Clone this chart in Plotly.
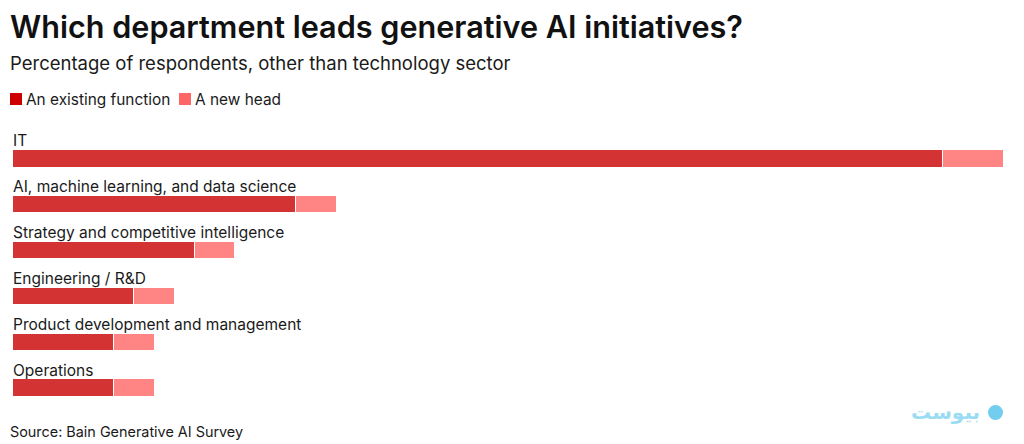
import plotly.graph_objects as go

categories = ["IT", "AI, machine learning, and data science", "Strategy and competitive intelligence",
              "Engineering / R&D", "Product development and management", "Operations"]
existing_function = [46, 14, 9, 6, 5, 5]
new_head = [3, 2, 2, 2, 2, 2]
series_names = ["An existing function", "A new head"]
bar_colors = ["#D43333", "#FF8484"]
legend_colors = ["#CC0000", "#FF6666"]

# the page adds an 8px body margin; work in reference pixels and subtract it
OFF = 8
W, H = 1024 - OFF, 444 - OFF
L, R, T, B = 13 - OFF, 20, 136 - OFF, 33
pw, ph = W - L - R, H - T - B

def px_x(px):
    return (px - OFF - L) / pw

def px_y(py):
    return (H - B - (py - OFF)) / ph

FONT = "Inter"
TXT = "#1a1a1a"

fig = go.Figure()
for name, vals, col in zip(series_names, [existing_function, new_head], bar_colors):
    fig.add_trace(go.Bar(
        y=categories, x=vals, name=name, orientation="h",
        marker=dict(color=col, line=dict(color="white", width=1)),
        width=0.38, showlegend=False, hoverinfo="x+y+name",
    ))

annotations = []
for c in categories:
    annotations.append(dict(x=0, y=c, xref="x", yref="y", text=c, showarrow=False,
                            xanchor="left", yanchor="middle", yshift=18, xshift=-2,
                            font=dict(family=FONT, size=15.5, color=TXT)))

# title (as annotation so it stays fully inside the page)
annotations.append(dict(x=px_x(8), y=px_y(26), xref="paper", yref="paper",
                        text="Which department leads generative AI initiatives?",
                        showarrow=False, xanchor="left", yanchor="middle",
                        font=dict(family=FONT, size=30.6, weight=600, color="#111111")))
# subtitle
annotations.append(dict(x=px_x(8), y=px_y(63), xref="paper", yref="paper",
                        text="Percentage of respondents, other than technology sector",
                        showarrow=False, xanchor="left", yanchor="middle",
                        font=dict(family=FONT, size=18.5, color=TXT)))
# manual legend
shapes = []
lx = [10, 179]
for name, col, x0 in zip(series_names, legend_colors, lx):
    shapes.append(dict(type="rect", xref="paper", yref="paper",
                       x0=px_x(x0), x1=px_x(x0 + 12), y0=px_y(105), y1=px_y(93),
                       fillcolor=col, line=dict(width=0)))
    annotations.append(dict(x=px_x(x0 + 14), y=px_y(99), xref="paper", yref="paper",
                            text=name, showarrow=False, xanchor="left", yanchor="middle",
                            font=dict(family=FONT, size=15.4, color=TXT)))
# source
annotations.append(dict(x=px_x(8), y=px_y(431), xref="paper", yref="paper",
                        text="Source: Bain Generative AI Survey", showarrow=False,
                        xanchor="left", yanchor="middle",
                        font=dict(family=FONT, size=14.4, color=TXT)))
# watermark
annotations.append(dict(x=px_x(982), y=px_y(412), xref="paper", yref="paper",
                        text="<b>بیوست</b>", showarrow=False, xanchor="right", yanchor="middle",
                        font=dict(family="DejaVu Sans", size=20, color="#9BDCF3")))
shapes.append(dict(type="circle", xref="paper", yref="paper",
                   x0=px_x(988), x1=px_x(1003), y0=px_y(420), y1=px_y(405),
                   fillcolor="#72CDEE", line=dict(width=0)))

fig.update_layout(
    width=W, height=H,
    margin=dict(l=L, r=R, t=T, b=B, autoexpand=False),
    barmode="stack", bargap=0,
    plot_bgcolor="white", paper_bgcolor="white",
    xaxis=dict(visible=False, range=[0, existing_function[0] + new_head[0]], fixedrange=True),
    yaxis=dict(visible=False, categoryorder="array", categoryarray=categories,
               range=[len(categories) - 0.5, -0.5], autorange=False, fixedrange=True),
    annotations=annotations, shapes=shapes,
)

fig.write_html("out.html")
